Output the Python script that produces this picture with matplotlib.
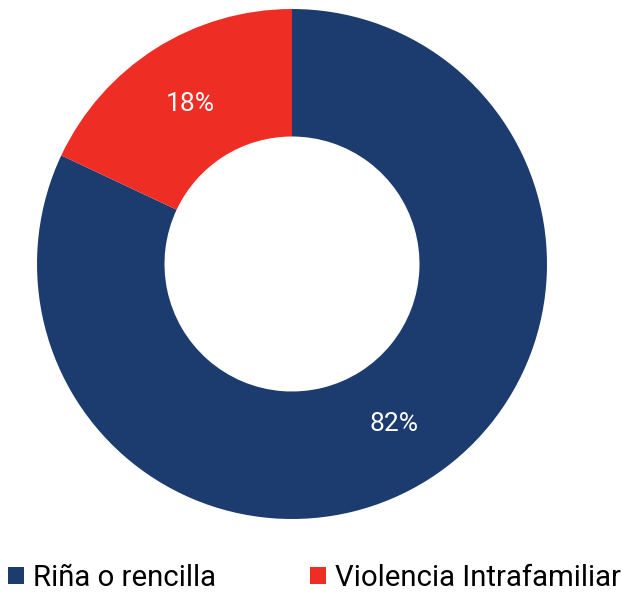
import matplotlib.pyplot as plt

categories = ["Riña o rencilla", "Violencia Intrafamiliar"]
values = [82, 18]
colors = ["#1c3b6f", "#ee2e24"]

plt.rcParams["font.family"] = ["Roboto", "DejaVu Sans"]

fig = plt.figure(figsize=(6.23, 5.92), dpi=100)
ax = fig.add_axes([0.0594, 0.1233, 0.8186, 0.8615])

wedges, texts, autotexts = ax.pie(
    values,
    colors=colors,
    startangle=90,
    counterclock=False,
    radius=1.0,
    autopct="%d%%",
    pctdistance=0.745,
    wedgeprops=dict(width=0.5, edgecolor="none"),
    textprops=dict(color="white", fontsize=19),
)
ax.set_xlim(-1, 1)
ax.set_ylim(-1, 1)
ax.set_aspect("equal")

fig.legend(
    wedges,
    categories,
    loc="lower left",
    bbox_to_anchor=(0.008, -0.005),
    borderpad=0.1,
    borderaxespad=0.0,
    ncol=2,
    frameon=False,
    fontsize=21.2,
    handlelength=0.55,
    handleheight=0.55,
    handletextpad=0.3,
    columnspacing=3.2,
)

plt.savefig("out.png", dpi=100)
